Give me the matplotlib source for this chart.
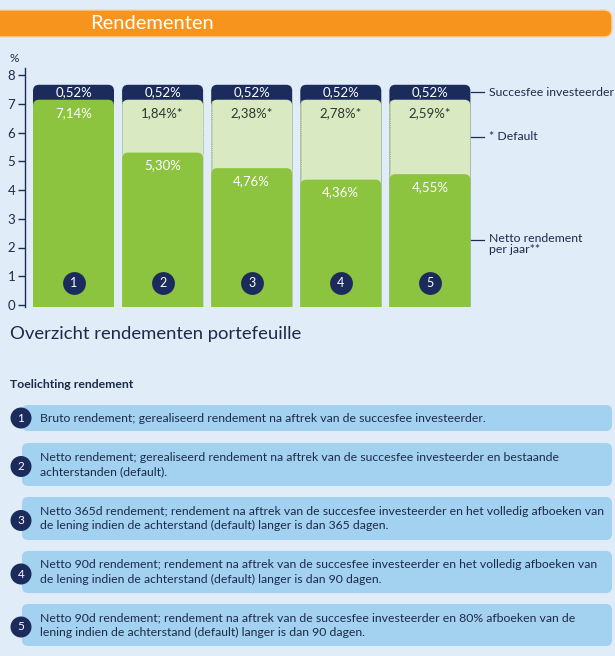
import matplotlib
matplotlib.use("Agg")
import matplotlib.pyplot as plt
from matplotlib.patches import FancyBboxPatch, Circle
import numpy as np

# ---------------- data ----------------
categories = [1, 2, 3, 4, 5]
cat_labels = ["1", "2", "3", "4", "5"]
netto = [7.14, 5.30, 4.76, 4.36, 4.55]
default = [0.0, 1.84, 2.38, 2.78, 2.59]
succesfee = [0.52, 0.52, 0.52, 0.52, 0.52]
yticks = [0, 1, 2, 3, 4, 5, 6, 7, 8]
legend_labels = ["Succesfee investeerder", "* Default", "Netto rendement\nper jaar**"]
box_texts = [
    "Bruto rendement; gerealiseerd rendement na aftrek van de succesfee investeerder.",
    "Netto rendement; gerealiseerd rendement na aftrek van de succesfee investeerder en bestaande\nachterstanden (default).",
    "Netto 365d rendement; rendement na aftrek van de succesfee investeerder en het volledig afboeken van\nde lening indien de achterstand (default) langer is dan 365 dagen.",
    "Netto 90d rendement; rendement na aftrek van de succesfee investeerder en het volledig afboeken van\nde lening indien de achterstand (default) langer is dan 90 dagen.",
    "Netto 90d rendement; rendement na aftrek van de succesfee investeerder en 80% afboeken van de\nlening indien de achterstand (default) langer is dan 90 dagen.",
]

# ---------------- style ----------------
BG = "#e0edf8"
NAVY = "#1b2c5c"
GREEN = "#8cc43f"
LIGHT = "#d9e9c1"
ORANGE = "#f7941d"
BOXBLUE = "#a3d1f0"
TXT = "#1e2a4a"
plt.rcParams["font.family"] = ["Lato", "DejaVu Sans"]

W, H = 615, 656
fig = plt.figure(figsize=(W / 100, H / 100), dpi=100)
fig.patch.set_facecolor(BG)

# background / layout axes in pixel coordinates
bg = fig.add_axes([0, 0, 1, 1], zorder=0)
bg.set_xlim(0, W)
bg.set_ylim(H, 0)
bg.axis("off")

# orange banner
bg.add_patch(FancyBboxPatch((-20, 10), 632, 27, boxstyle="round,pad=0,rounding_size=8",
                            fc=ORANGE, ec="#fbd3a4", lw=1))
bg.text(90, 23.5, "Rendementen", color="white", fontsize=14.5, fontweight="normal",
        ha="left", va="center")
bg.text(9, 59, "%", color=TXT, fontsize=8.5, ha="left", va="center")

# ---------------- chart axes ----------------
px_x = 89.1   # pixels per category
px_y = 28.75  # pixels per %
ymin, ymax = -0.07, 8.25
left_px, right_px = 25, 480
x0 = 1 - (73.5 - left_px) / px_x
x1 = x0 + (right_px - left_px) / px_x
bottom_px = 305 - ymin * px_y
top_px = 305 - ymax * px_y
ax = fig.add_axes([left_px / W, (H - bottom_px) / H, (right_px - left_px) / W,
                   (bottom_px - top_px) / H], zorder=1)
ax.set_facecolor("none")
ax.set_xlim(x0, x1)
ax.set_ylim(ymin, ymax)

bw = 81 / px_x
r = 6 / px_x
asp = px_x / px_y


def rounded_bar(x, top, color, z):
    p = FancyBboxPatch((x - bw / 2, -0.6), bw, top + 0.6,
                       boxstyle=f"round,pad=0,rounding_size={r}", mutation_aspect=asp,
                       fc=color, ec="none", zorder=z)
    ax.add_patch(p)


def fmt(v):
    return f"{v:.2f}".replace(".", ",") + "%"


for x, n, d, s in zip(categories, netto, default, succesfee):
    gross = n + d
    total = gross + s
    rounded_bar(x, total, NAVY, 2)
    if d > 0:
        rounded_bar(x, gross, LIGHT, 3)
        ax.vlines([x - bw / 2 + 0.004, x + bw / 2 - 0.004], n, gross, colors="#a6bd8c",
                  linestyles=(0, (1, 1)), lw=0.7, zorder=3.5)
    rounded_bar(x, n, GREEN, 4)
    ax.text(x, gross + s / 2, fmt(s), color="white", fontsize=9.5, ha="center", va="center", zorder=6)
    if d > 0:
        ax.text(x, gross - 0.45, fmt(d) + "*", color="#2e372e", fontsize=9.5, ha="center",
                va="center", zorder=6)
    ax.text(x, n - 0.45, fmt(n), color="white", fontsize=9.5, ha="center", va="center", zorder=6)

ax.scatter(categories, [0.75] * len(categories), s=270, color=NAVY, zorder=7, linewidths=0)
for x, lab in zip(categories, cat_labels):
    ax.text(x, 0.75, lab, color="white", fontsize=9, ha="center", va="center", zorder=8)

# axis styling
for sp in ["top", "right", "bottom"]:
    ax.spines[sp].set_visible(False)
ax.spines["left"].set_color(NAVY)
ax.spines["left"].set_linewidth(1)
ax.set_yticks(yticks)
ax.set_yticklabels([str(t) for t in yticks])
ax.tick_params(axis="y", colors=NAVY, length=5, width=1, pad=2, labelsize=9.5, labelcolor=TXT)
ax.set_xticks([])

# right-hand annotations (tied to last bar)
xl = categories[-1]
n_l, d_l, s_l = netto[-1], default[-1], succesfee[-1]
ann_y = [n_l + d_l + s_l / 2, n_l + d_l / 2, n_l / 2]
lx0 = xl + bw / 2 + 0.003
lx1 = lx0 + 13 / px_x
for y, lab in zip(ann_y, legend_labels):
    ax.plot([lx0, lx1], [y, y], color=NAVY, lw=0.9, clip_on=False, zorder=5)
    if "\n" in lab:
        ax.text(lx1 + 5 / px_x, y + 0.24, lab, color=TXT, fontsize=8.8, ha="left", va="top",
                linespacing=1.0, clip_on=False)
    else:
        ax.text(lx1 + 5 / px_x, y, lab, color=TXT, fontsize=8.8, ha="left", va="center",
                clip_on=False)

# ---------------- lower text section ----------------
bg.text(10, 334, "Overzicht rendementen portefeuille", color=TXT, fontsize=13.3,
        fontweight="normal", ha="left", va="center")
bg.text(10, 384, "Toelichting rendement", color=TXT, fontsize=8.8, fontweight="bold",
        ha="left", va="center")

boxes = [(405, 431), (443, 486), (497, 540), (551, 593), (604, 646)]
for i, ((yt, yb), txt) in enumerate(zip(boxes, box_texts)):
    bg.add_patch(FancyBboxPatch((22, yt), 590, yb - yt, boxstyle="round,pad=0,rounding_size=6",
                                fc=BOXBLUE, ec="none"))
    yc = (yt + yb) / 2
    bg.add_patch(Circle((21, yc + (0 if i == 0 else 2)), 10.5, fc=NAVY, ec="none", zorder=3))
    bg.text(21, yc + (0 if i == 0 else 2), cat_labels[i], color="white", fontsize=8.5,
            ha="center", va="center", zorder=4)
    bg.text(40, yc, txt, color=TXT, fontsize=8.8, ha="left", va="center", linespacing=1.35)

fig.savefig("out.png", dpi=100, facecolor=BG)
